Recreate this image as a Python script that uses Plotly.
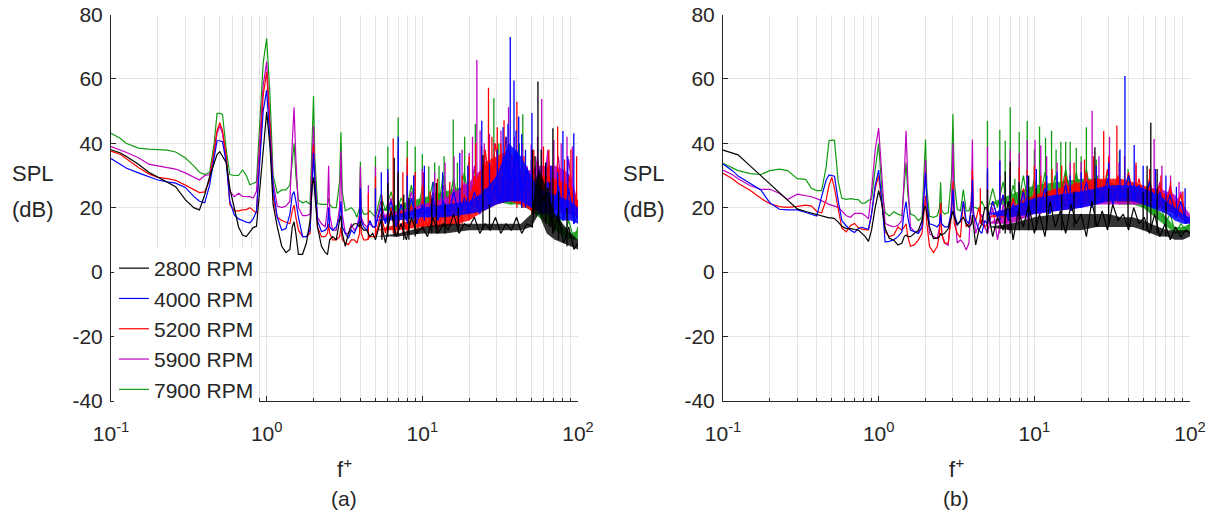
import plotly.graph_objects as go

# ---------------- data ----------------
F_LOW = [0.1, 0.115, 0.125, 0.15, 0.175, 0.2, 0.23, 0.26, 0.3, 0.34,
         0.37, 0.4, 0.43, 0.46, 0.48, 0.5, 0.52, 0.55, 0.58, 0.62,
         0.66, 0.7, 0.74, 0.78, 0.82, 0.86, 0.9, 0.95, 1.0, 1.05,
         1.1, 1.17, 1.25, 1.33, 1.41, 1.46, 1.5, 1.54, 1.6, 1.7,
         1.8, 1.9, 1.96, 2.0, 2.04, 2.12, 2.25, 2.38, 2.46, 2.5,
         2.54, 2.65, 2.8, 2.94, 3.0, 3.06, 3.2, 3.35, 3.5, 3.65,
         3.8, 3.95, 4.0, 4.05, 4.2, 4.4, 4.6, 4.8]
F_HIGH = [5.0, 5.4, 5.8, 6.3, 6.8, 7.3, 7.9, 8.5, 9.2, 10,
          10.8, 11.7, 12.6, 13.6, 14.7, 15.9, 17.2, 18.6, 20, 21.6,
          23.4, 25.3, 27.3, 29.5, 31.9, 34.5, 37.3, 40.3, 43.5, 47,
          50.8, 54.9, 59.3, 64, 69.2, 74.7, 80.7, 87.2, 94.2, 100]
F_BAND = [5, 7, 10, 14, 20, 25, 30, 36, 43, 50, 56, 63, 71, 80, 90, 100]

SERIES = ["2800 RPM", "4000 RPM", "5200 RPM", "5900 RPM", "7900 RPM"]
COLORS = ["#000000", "#0000ff", "#ff0000", "#bf00bf", "#129c12"]
BAND_RGBA = ["rgba(0,0,0,0.8)", "rgba(0,0,255,0.85)", "rgba(255,0,0,0.85)",
             "rgba(191,0,191,0.85)", "rgba(18,156,18,0.85)"]

# ----- panel (a) -----
A_LOW_2800 = [38, 37, 36, 33.5, 31, 29.5, 28, 26.5, 22.5, 20,
              19.3, 24, 29.6, 34, 36.5, 37.4, 36, 34, 26, 20,
              14, 11.5, 11, 12.5, 13.8, 14.2, 25, 40, 49.8, 39,
              21, 14, 8, 6, 7, 14, 15.6, 12, 5.5, 5.5,
              9, 16, 27, 29.4, 25, 14, 8, 6, 5.5, 8,
              10, 11, 10, 16, 17.5, 12, 8, 12, 14, 15,
              15, 14, 16, 14, 13, 13, 11, 12]
A_LOW_4000 = [35.3, 33.5, 32.3, 30.8, 29.7, 28.6, 28, 27.6, 26.3, 23.5,
              22, 21.5, 27, 36, 40.8, 40.8, 40.5, 34, 22, 17.7,
              16.5, 16, 15.5, 15.3, 16.5, 19, 32, 50, 56.5, 42,
              26, 17, 13, 13.5, 18, 24, 25, 22, 17, 11,
              11, 13, 30, 37, 28, 16, 12.5, 13, 14, 20,
              14, 13, 14, 17, 22, 14, 12, 10.5, 13, 12,
              14, 16, 26, 16, 14, 13, 16, 14]
A_LOW_5200 = [37.6, 36.5, 35.3, 32.5, 30.5, 29.4, 29, 28.5, 27, 25.5,
              24.7, 24.9, 28.6, 38, 44, 46.4, 44, 36, 21, 19,
              19, 19.3, 19.4, 20, 19, 18.3, 35, 55, 62.3, 45,
              23, 17, 16, 15.5, 15, 19, 20.8, 17, 13, 11,
              11, 12, 30, 39.5, 28, 14, 11, 11, 12, 15,
              12, 10, 10, 11, 14, 10, 9, 8.5, 10, 10,
              9, 12, 21, 12, 10, 10, 11, 11]
A_LOW_5900 = [39, 38, 37.2, 35.5, 33.5, 33, 32.5, 32, 30.8, 29.5,
              28.6, 30, 30.2, 37, 43, 45.5, 43, 35, 25, 23.4,
              24.5, 23.5, 23.5, 23.4, 23, 25, 40, 58, 65.4, 48,
              28, 20.5, 20, 20.5, 22, 40, 51.2, 35, 20, 17.5,
              17.5, 18, 35, 45.4, 30, 17, 15, 14, 20, 33,
              18, 13, 13, 20, 37.6, 18, 12, 12, 15, 13,
              14, 18, 32.7, 17, 15, 14, 15, 14]
A_LOW_7900 = [43.1, 41.5, 40, 38.5, 38.2, 38, 37.9, 37.3, 35.5, 33,
              31, 30.3, 31, 40, 49.3, 49.3, 49, 38, 30.3, 30,
              30, 31.7, 30, 27.1, 27.5, 28, 45, 65, 72.6, 55,
              30, 24.5, 25.5, 25.5, 27, 35, 40, 30, 22.4, 21.5,
              22, 21, 40, 54.7, 35, 21.3, 21, 21, 21, 23,
              21, 20, 20, 28, 43.4, 25, 19, 19.5, 20, 19,
              17, 20, 34.3, 20, 18, 18, 19, 18]

A_HIGH_2800 = [10, 16, 9, 19, 11, 15, 10, 17, 12, 14,
               11, 17, 12, 15, 13, 18, 12, 15, 14, 17,
               12, 15, 13, 17, 12, 15, 13, 17, 12, 15,
               14, 30, 22, 26, 12, 18, 9, 14, 7, 9]
A_HIGH_4000 = [14, 20, 15, 22, 14, 21, 16, 23, 15, 21,
               17, 23, 16, 22, 18, 25, 17, 23, 19, 25,
               18, 26, 21, 27, 22, 35, 28, 38, 24, 32,
               20, 30, 18, 28, 17, 27, 16, 26, 15, 18]
A_HIGH_5200 = [11, 18, 12, 20, 11, 19, 13, 21, 12, 19,
               14, 21, 13, 20, 15, 22, 14, 24, 17, 30,
               20, 38, 24, 40, 26, 42, 24, 34, 20, 30,
               18, 30, 20, 33, 19, 32, 18, 30, 17, 20]
A_HIGH_5900 = [14, 22, 16, 23, 15, 21, 17, 25, 16, 23,
               18, 25, 17, 27, 18, 26, 20, 28, 19, 33,
               22, 38, 22, 35, 22, 36, 22, 35, 22, 33,
               22, 36, 22, 38, 22, 36, 21, 35, 20, 21]
A_HIGH_7900 = [17, 24, 19, 25, 18, 23, 19, 27, 18, 26,
               20, 28, 19, 30, 21, 29, 20, 31, 22, 32,
               22, 33, 22, 33, 22, 32, 21, 30, 20, 28,
               19, 26, 17, 22, 14, 20, 11, 16, 10, 14]

# dense noise bands on F_BAND: lower / upper edge (dB)
A_BLO_2800 = [11, 11, 12, 12, 13, 13, 13, 13, 13, 14, 18, 12, 10, 9, 8, 7]
A_BHI_2800 = [11, 12, 14, 15, 15, 15, 15, 15, 15, 18, 32, 26, 18, 15, 12, 10]
A_BLO_4000 = [16, 16, 17, 17, 18, 19, 21, 22, 22, 20, 19, 18, 17, 16, 16, 15]
A_BHI_4000 = [16, 18, 20, 21, 22, 25, 30, 40, 36, 30, 26, 25, 24, 23, 22, 20]
A_BLO_5200 = [13, 13, 14, 14, 16, 19, 21, 22, 21, 19, 19, 19, 19, 18, 18, 17]
A_BHI_5200 = [13, 15, 17, 18, 24, 34, 36, 38, 32, 28, 30, 30, 29, 28, 27, 22]
A_BLO_5900 = [17, 17, 18, 18, 20, 22, 22, 22, 22, 22, 22, 22, 22, 21, 21, 20]
A_BHI_5900 = [17, 19, 21, 23, 28, 33, 33, 32, 30, 32, 33, 33, 33, 32, 30, 22]
A_BLO_7900 = [19, 19, 20, 20, 21, 22, 22, 21, 21, 19, 17, 15, 13, 11, 10, 10]
A_BHI_7900 = [19, 21, 23, 25, 27, 29, 29, 28, 26, 24, 21, 19, 17, 14, 12, 13]

# spikes: (frequency, foot dB, tip dB)
A_SPK_2800 = [(5.5, 10, 22), (6.0, 11, 27.7), (6.6, 11, 35.5), (7.0, 11, 31), (7.6, 10, 24),
              (8.2, 10, 23), (9.0, 11, 20), (11.5, 12, 23), (12.3, 12, 27.7), (14, 12, 21),
              (17, 13, 20), (24.5, 13, 36.4), (27, 13, 21), (51, 18, 38), (53, 20, 36),
              (55.3, 20, 59.2), (58, 18, 38), (62, 15, 33.8), (66, 14, 28), (69, 12, 44.7),
              (75, 10, 25), (85, 8, 20)]
A_SPK_4000 = [(5.0, 14, 26), (5.45, 14, 31), (6.0, 15, 32), (7.0, 15, 42), (8.0, 15, 30),
              (8.8, 16, 30), (10.3, 16, 33), (11.7, 17, 28), (13.5, 17, 31), (17.4, 18, 37),
              (19.6, 18, 33), (24.1, 19, 47), (27, 20, 34), (30.3, 22, 38), (33, 22, 45),
              (34.5, 22, 42), (35.5, 22, 46), (36.7, 22, 73), (38.8, 22, 59.5), (40, 22, 44),
              (41.6, 22, 48.3), (43.5, 20, 42.8), (46, 20, 38), (50.6, 20, 49.4), (56, 18, 32),
              (62, 18, 34), (67, 17, 33), (74, 16, 31), (80, 16, 43.8), (86, 16, 36), (94, 15, 43.1)]
A_SPK_5200 = [(4.5, 10, 24.5), (5.0, 11, 29.6), (5.5, 11, 24), (6.0, 12, 31), (6.5, 12, 41.5),
              (7.0, 12, 30), (7.5, 12, 31), (8.0, 12, 35.6), (9.0, 13, 31), (10.0, 13, 27),
              (10.2, 13, 31), (11.2, 13, 25), (12.5, 14, 29), (15, 14, 28), (18, 15, 30),
              (20, 16, 36), (22, 18, 40), (24, 20, 39), (26.6, 20, 57.3), (28, 22, 42),
              (30.3, 22, 45), (32, 22, 40), (33.5, 22, 47.2), (36, 22, 40), (40.5, 20, 52.9),
              (45, 20, 36), (52, 18, 38), (60, 18, 39), (65, 18, 38), (74, 18, 45.2),
              (82, 18, 35), (90, 17, 38), (98, 17, 36)]
A_SPK_5900 = [(4.5, 13, 27), (5.0, 14, 32.7), (6.0, 15, 30), (7.0, 15, 38), (8.0, 16, 33),
              (9.0, 16, 30), (10, 17, 32), (12, 17, 31), (14, 18, 34), (16, 18, 36),
              (18, 19, 38), (20, 20, 37), (21, 20, 42), (22.4, 20, 65.9), (23.5, 22, 44),
              (25, 22, 40), (27, 22, 43), (29, 22, 40), (32, 22, 44), (35.8, 22, 51.2),
              (39, 22, 42), (44, 22, 40), (50, 22, 39.6), (55, 22, 42), (58.5, 22, 53.8),
              (64, 22, 37.2), (70, 22, 41), (78, 21, 40), (85, 21, 42), (92, 20, 39)]
A_SPK_7900 = [(5.0, 17, 36), (6.0, 18, 39), (7.0, 18, 48), (8.0, 18, 40.7), (9.0, 19, 39),
              (10, 19, 36.6), (11, 19, 32.8), (12, 20, 34), (12.8, 20, 33), (13.8, 20, 36),
              (15.8, 20, 47.4), (16.8, 21, 34), (18.7, 21, 42), (19.8, 21, 34), (21.9, 22, 46),
              (25, 22, 38), (28.8, 22, 54), (31, 22, 40), (36, 22, 38), (42, 21, 40),
              (44.2, 20, 49), (50, 19, 35)]

# ----- panel (b) -----
B_LOW_2800 = [37.9, 37.1, 36.4, 32.9, 29.9, 27.4, 24.7, 22.3, 19.6, 18.8,
              18.3, 17.8, 17.3, 17, 16.8, 16.8, 16.6, 15.5, 14.2, 13.5,
              13.5, 13.2, 13, 12, 11, 9.5, 13, 20, 25.3, 21,
              13.6, 10.5, 9.9, 8.4, 9, 11, 11.5, 11, 11, 12,
              13, 16, 20, 20.4, 18, 14, 10.4, 10.5, 11, 12,
              11.5, 12, 13.5, 17, 19, 17, 14.5, 16, 17, 15,
              14, 15, 17.7, 15, 8.4, 13, 15, 20]
B_LOW_4000 = [33.6, 31.5, 29.8, 27.5, 25.5, 21.5, 19.5, 19.3, 19.3, 18.5,
              17.8, 17.4, 23.4, 28.6, 30.2, 30, 29.8, 22, 16, 14.3,
              13, 12.3, 13.5, 13.9, 13.5, 13.3, 18, 27, 31.7, 22,
              9.4, 9.5, 10, 11, 12.5, 19, 21.9, 17, 13, 12.5,
              12, 14, 26, 30.7, 22, 15, 14.6, 14, 15, 18,
              15, 14, 14, 19, 25.7, 18, 15, 15.6, 22, 16,
              15, 20, 28.6, 18, 16, 13, 12, 16]
B_LOW_5200 = [30.7, 29, 27.6, 25.3, 22.9, 21.2, 20.3, 20.1, 20.4, 20.8,
              20.5, 18.8, 18.4, 22.4, 27, 29.4, 26, 19, 13.6, 12.5,
              14.5, 15.1, 13.8, 13.3, 13.2, 13, 18, 26, 30, 20,
              12.5, 11, 11.5, 14, 13, 14, 15, 11, 8, 8.5,
              10, 12, 20, 23.7, 15, 8, 6, 8, 12, 21.5,
              12, 9, 9, 18, 28.1, 15, 12, 10.7, 22, 14,
              15, 20, 31.7, 18, 16, 20, 15, 14]
B_LOW_5900 = [31.7, 30.2, 29, 26.8, 25.7, 25.7, 24.5, 22.5, 24.2, 23.8,
              23.4, 22.8, 22.2, 21.5, 21, 20.8, 20.5, 20.1, 19, 17.5,
              17, 18.2, 18.2, 18.2, 17.5, 16.5, 25, 38, 44.7, 28,
              15.1, 14.5, 14, 14.5, 16, 30, 43.9, 28, 14, 12.4,
              12.5, 14, 25, 34.8, 22, 12, 11, 10.4, 14, 21.5,
              12, 9, 8.2, 22, 40, 20, 9, 10, 9, 6.8,
              9, 25, 41.2, 20, 12, 15, 18, 14]
B_LOW_7900 = [33.8, 32.5, 31.5, 30.6, 30.3, 31.5, 32, 31.5, 29, 28.8,
              26, 25.3, 25.3, 32.7, 40.8, 41, 40.9, 28, 22.9, 22.6,
              22.8, 22.6, 22.5, 21.3, 21.5, 22.3, 22.6, 32, 40, 25,
              18.5, 17.4, 18.7, 18, 17.5, 27, 34, 24, 18, 17.5,
              16, 17, 30, 41.2, 26, 17.3, 17, 17.5, 20, 27.9,
              19, 18, 18.5, 30, 49.1, 28, 19.5, 19, 25.6, 19,
              19, 22, 26.7, 20, 20, 19.5, 22, 20]

B_HIGH_2800 = [20, 11, 17, 13, 22, 10, 19, 14, 21, 12,
               18, 11, 22, 14, 19, 12, 21, 15, 18, 11,
               22, 14, 19, 13, 21, 16, 18, 13, 20, 15,
               17, 12, 18, 11, 15, 10, 14, 11, 13, 12]
B_HIGH_4000 = [15, 22, 17, 24, 16, 21, 18, 25, 17, 23,
               19, 26, 18, 24, 20, 27, 19, 25, 21, 28,
               20, 26, 22, 29, 21, 27, 23, 30, 22, 27,
               21, 28, 20, 25, 19, 24, 17, 22, 15, 17]
B_HIGH_5200 = [15, 22, 17, 24, 16, 23, 18, 26, 17, 25,
               19, 28, 20, 26, 21, 30, 20, 28, 22, 31,
               21, 29, 23, 32, 22, 30, 23, 31, 22, 29,
               21, 29, 21, 27, 20, 26, 18, 24, 16, 16]
B_HIGH_5900 = [12, 20, 10, 21, 13, 22, 15, 24, 16, 23,
               18, 26, 19, 25, 20, 28, 19, 26, 21, 29,
               20, 27, 22, 29, 21, 27, 22, 28, 21, 27,
               22, 28, 21, 28, 20, 27, 19, 25, 17, 17]
B_HIGH_7900 = [19, 26, 20, 28, 19, 27, 21, 30, 20, 29,
               22, 31, 21, 30, 23, 32, 22, 31, 23, 32,
               22, 30, 23, 31, 22, 29, 22, 29, 21, 27,
               20, 26, 18, 23, 15, 18, 12, 15, 13, 15]

B_BLO_2800 = [14, 13, 13, 13, 13, 14, 14, 14, 14, 13, 12, 11, 11, 10, 10, 11]
B_BHI_2800 = [14, 15, 17, 18, 18, 18, 18, 17, 17, 16, 15, 14, 13, 13, 13, 13]
B_BLO_4000 = [18, 17, 18, 19, 20, 21, 22, 22, 22, 21, 20, 19, 18, 16, 15, 15]
B_BHI_4000 = [18, 20, 23, 24, 25, 26, 27, 27, 27, 26, 25, 24, 22, 20, 18, 17]
B_BLO_5200 = [17, 17, 19, 20, 21, 22, 22, 22, 22, 21, 21, 20, 19, 18, 16, 15]
B_BHI_5200 = [17, 20, 24, 26, 28, 29, 29, 29, 28, 27, 26, 25, 24, 22, 19, 16]
B_BLO_5900 = [15, 15, 18, 19, 20, 21, 21, 21, 21, 21, 21, 21, 20, 19, 18, 17]
B_BHI_5900 = [15, 19, 23, 24, 26, 27, 27, 26, 26, 26, 26, 26, 25, 24, 21, 18]
B_BLO_7900 = [21, 21, 21, 22, 22, 22, 22, 21, 21, 20, 18, 16, 14, 12, 12, 13]
B_BHI_7900 = [21, 24, 27, 28, 29, 29, 28, 27, 26, 25, 22, 19, 17, 14, 14, 15]

B_SPK_2800 = [(5.0, 12, 25.6), (6.5, 12, 31.2), (7.0, 12, 34.3), (8.0, 13, 28), (9.2, 13, 30),
              (10.3, 13, 26), (12, 13, 25), (15, 13, 24), (18, 14, 25), (24.5, 14, 38.8),
              (30, 15, 26), (40, 14, 26), (50, 13, 25), (53, 13, 33), (56, 13, 46.4),
              (61.5, 12, 32), (70, 11, 22)]
B_SPK_4000 = [(5.0, 15, 32.2), (6.0, 16, 34.5), (7.0, 16, 30), (8, 17, 28), (9, 17, 30),
              (10.3, 18, 32), (12, 18, 30), (14, 19, 31), (17, 20, 30), (20, 20, 31),
              (25, 21, 33), (30, 22, 34), (35.5, 22, 38.1), (38.2, 22, 60.9), (43.8, 22, 39.5),
              (50, 21, 33), (60, 20, 32), (70, 19, 30), (81.8, 17, 26.5), (93, 15, 26)]
B_SPK_5200 = [(4.5, 15, 26), (5.0, 15, 31), (6, 16, 30), (7, 16, 32), (8, 17, 32.7),
              (9, 18, 31.7), (10, 19, 33), (11, 19, 30), (13, 20, 32), (15, 20, 33),
              (18, 21, 34), (21, 21, 35), (24, 22, 36), (27.9, 22, 43.8), (30, 22, 36),
              (33.9, 22, 45.5), (38, 22, 36), (45, 22, 34), (55, 21, 32), (65, 20, 30),
              (75, 19, 28), (90, 17, 25)]
B_SPK_5900 = [(5.0, 12, 39), (6, 12, 35), (7, 13, 38), (8, 15, 37), (9, 16, 41),
              (10.1, 18, 41), (11, 18, 39.3), (12, 18, 36), (14, 19, 34), (17, 20, 34),
              (20, 20, 34.3), (23.5, 21, 50.1), (26, 21, 36), (30.4, 21, 42), (35, 21, 34),
              (45, 21, 33), (58.8, 21, 41.3), (66, 21, 33), (75, 20, 30), (85, 19, 28)]
B_SPK_7900 = [(5.0, 19, 46.9), (6.0, 20, 44.1), (6.5, 20, 40.8), (7.0, 20, 51.2), (7.5, 20, 29),
              (8.0, 20, 43.4), (9.0, 21, 46.9), (10, 21, 38), (10.8, 21, 45.2), (11.8, 21, 41.7),
              (12.9, 22, 43.9), (13.8, 22, 38), (14.8, 22, 40.5), (15.9, 22, 40.5), (17, 22, 40.5),
              (18.6, 22, 38.6), (20, 22, 36), (21.6, 22, 45), (25, 22, 35), (30, 22, 34),
              (35.2, 21, 37.6), (40, 21, 32)]

X_TICKS = [0.1, 1, 10, 100]
X_TICKTEXT = ["10<sup>-1</sup>", "10<sup>0</sup>", "10<sup>1</sup>", "10<sup>2</sup>"]
X_MINOR = [0.2, 0.3, 0.4, 0.5, 0.6, 0.7, 0.8, 0.9,
           2, 3, 4, 5, 6, 7, 8, 9,
           20, 30, 40, 50, 60, 70, 80, 90]
Y_TICKS = [-40, -20, 0, 20, 40, 60, 80]
Y_TICKTEXT = ["-40", "-20", "0", "20", "40", "60", "80"]

PANELS = {
    "a": {"low": [A_LOW_2800, A_LOW_4000, A_LOW_5200, A_LOW_5900, A_LOW_7900],
          "high": [A_HIGH_2800, A_HIGH_4000, A_HIGH_5200, A_HIGH_5900, A_HIGH_7900],
          "blo": [A_BLO_2800, A_BLO_4000, A_BLO_5200, A_BLO_5900, A_BLO_7900],
          "bhi": [A_BHI_2800, A_BHI_4000, A_BHI_5200, A_BHI_5900, A_BHI_7900],
          "spk": [A_SPK_2800, A_SPK_4000, A_SPK_5200, A_SPK_5900, A_SPK_7900]},
    "b": {"low": [B_LOW_2800, B_LOW_4000, B_LOW_5200, B_LOW_5900, B_LOW_7900],
          "high": [B_HIGH_2800, B_HIGH_4000, B_HIGH_5200, B_HIGH_5900, B_HIGH_7900],
          "blo": [B_BLO_2800, B_BLO_4000, B_BLO_5200, B_BLO_5900, B_BLO_7900],
          "bhi": [B_BHI_2800, B_BHI_4000, B_BHI_5200, B_BHI_5900, B_BHI_7900],
          "spk": [B_SPK_2800, B_SPK_4000, B_SPK_5200, B_SPK_5900, B_SPK_7900]},
}

# ---------------- figure ----------------
W, H = 1216, 520
TXT = "#262626"
GRID = "#e4e4e4"
FONT = "Liberation Sans, Arial, Helvetica, sans-serif"


def px(x):
    return x / W


def py(y):
    return 1 - y / H


fig = go.Figure()
freqs = F_LOW + F_HIGH
for pkey, xa, ya in [("a", "x", "y"), ("b", "x2", "y2")]:
    d = PANELS[pkey]
    for i in [4, 3, 2, 1, 0]:  # draw 7900 first, 2800 on top
        col = COLORS[i]
        fig.add_trace(go.Scatter(
            x=F_BAND + F_BAND[::-1], y=d["blo"][i] + d["bhi"][i][::-1],
            mode="lines", fill="toself", fillcolor=BAND_RGBA[i],
            line=dict(width=0, color=col), showlegend=False,
            xaxis=xa, yaxis=ya, hoverinfo="skip"))
        fig.add_trace(go.Scatter(
            x=freqs, y=d["low"][i] + d["high"][i], mode="lines",
            line=dict(color=col, width=1.2), name=SERIES[i],
            showlegend=(pkey == "a"), xaxis=xa, yaxis=ya, hoverinfo="skip"))
        sx, sy = [], []
        for f, lo, hi in d["spk"][i]:
            sx += [f, f, None]
            sy += [lo, hi, None]
        fig.add_trace(go.Scatter(
            x=sx, y=sy, mode="lines", line=dict(color=col, width=1.3),
            showlegend=False, xaxis=xa, yaxis=ya, hoverinfo="skip"))


def xaxis_cfg(domain, anchor):
    return dict(type="log", range=[-1, 2], domain=domain, anchor=anchor,
                automargin=False, ticklabeloverflow="allow",
                tickmode="array", tickvals=X_TICKS, ticktext=X_TICKTEXT,
                ticks="inside", ticklen=5, tickcolor=TXT, tickwidth=1,
                showline=True, linecolor=TXT, linewidth=1, mirror=False,
                showgrid=True, gridcolor=GRID, gridwidth=1, zeroline=False,
                minor=dict(tickvals=X_MINOR, ticks="inside", ticklen=3,
                           tickcolor=TXT, showgrid=True, gridcolor=GRID, gridwidth=1),
                tickfont=dict(family=FONT, size=21, color=TXT),
                ticklabelstandoff=14)


def yaxis_cfg(domain, anchor):
    return dict(range=[-40, 80], domain=domain, anchor=anchor,
                automargin=False, ticklabeloverflow="allow",
                tickmode="array", tickvals=Y_TICKS, ticktext=Y_TICKTEXT,
                ticks="inside", ticklen=5, tickcolor=TXT, tickwidth=1,
                showline=True, linecolor=TXT, linewidth=1, mirror=False,
                showgrid=True, gridcolor=GRID, gridwidth=1, zeroline=False,
                tickfont=dict(family=FONT, size=21, color=TXT),
                ticklabelstandoff=3)


YDOM = [py(400.7), py(14.6)]
fig.update_layout(
    width=W, height=H, autosize=False,
    margin=dict(l=0, r=0, t=0, b=0, pad=0),
    paper_bgcolor="white", plot_bgcolor="white",
    font=dict(family=FONT, size=21, color=TXT),
    xaxis=xaxis_cfg([px(111), px(578)], "y"),
    yaxis=yaxis_cfg(YDOM, "x"),
    xaxis2=xaxis_cfg([px(723), px(1190)], "y2"),
    yaxis2=yaxis_cfg(YDOM, "x2"),
    legend=dict(x=px(114), y=py(248), xanchor="left", yanchor="top",
                bgcolor="white", borderwidth=0, traceorder="reversed",
                font=dict(family=FONT, size=21, color=TXT), itemwidth=30),
    showlegend=True,
)

ann = []
for cx in [33, 644]:
    ann.append(dict(x=px(cx), y=py(174), xref="paper", yref="paper", text="SPL",
                    xanchor="center", yanchor="middle", showarrow=False,
                    font=dict(family=FONT, size=22, color=TXT)))
    ann.append(dict(x=px(cx), y=py(209), xref="paper", yref="paper", text="(dB)",
                    xanchor="center", yanchor="middle", showarrow=False,
                    font=dict(family=FONT, size=22, color=TXT)))
for cx, lab in [(344, "(a)"), (956, "(b)")]:
    ann.append(dict(x=px(cx), y=py(468), xref="paper", yref="paper", text="f<sup>+</sup>",
                    xanchor="center", yanchor="middle", showarrow=False,
                    font=dict(family=FONT, size=22, color=TXT)))
    ann.append(dict(x=px(cx), y=py(498), xref="paper", yref="paper", text=lab,
                    xanchor="center", yanchor="middle", showarrow=False,
                    font=dict(family=FONT, size=21, color=TXT)))
fig.update_layout(annotations=ann)

# remove the browser's default 8 px page margin so the figure fills the window
fig.write_html("out.html",
               config={"displayModeBar": False},
               post_script="document.body.style.margin='0px';"
                           "document.body.style.overflow='hidden';")
